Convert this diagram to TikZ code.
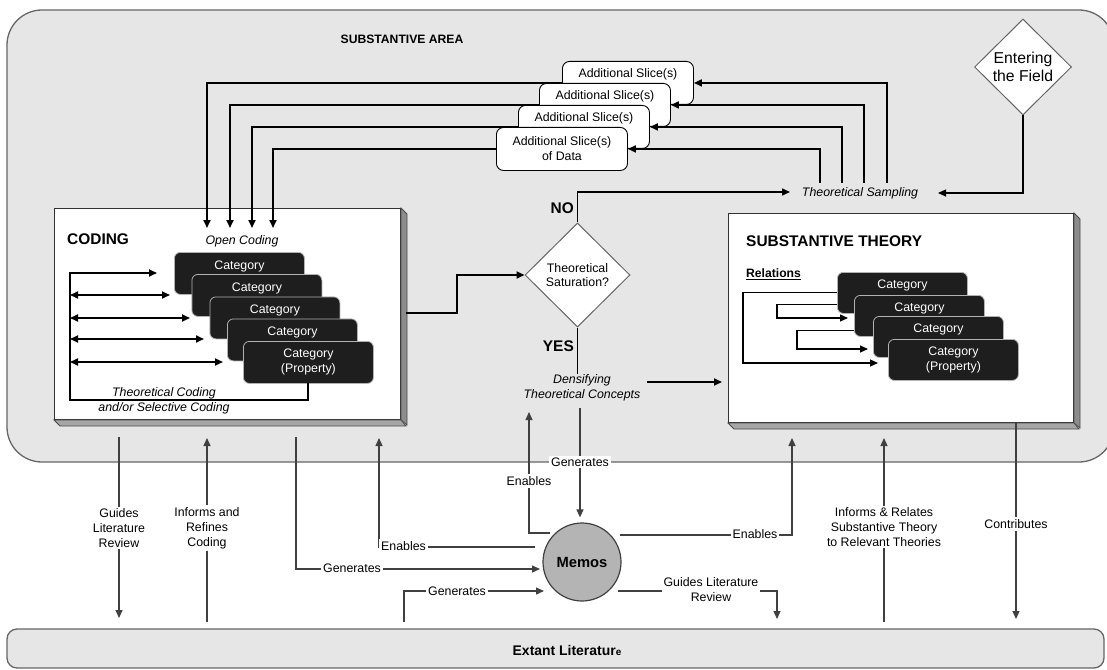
\documentclass[tikz,border=0pt]{standalone}
\usepackage{fontspec}
\setmainfont{Liberation Sans}
\usetikzlibrary{arrows.meta,shapes.geometric,calc}

\definecolor{areagray}{HTML}{E6E6E6}
\definecolor{bordergray}{HTML}{666666}
\definecolor{catfill}{HTML}{1E1E1E}
\definecolor{memofill}{HTML}{B4B4B4}
\definecolor{shadeA}{HTML}{8C8C8C}
\definecolor{shadeB}{HTML}{A6A6A6}
\definecolor{flowgray}{HTML}{404040}

\newcommand{\setfs}[2]{\fontsize{#1}{#2}\selectfont}

\begin{document}
\begin{tikzpicture}[x=1bp,y=-1bp,
  >={Triangle[length=8bp,width=7bp]},
  txt/.style={font=\setfs{12.4}{15}, inner sep=1bp, align=center},
  itxt/.style={font=\setfs{12.4}{15}\itshape, inner sep=1bp, align=center},
  btxt/.style={font=\setfs{12.2}{15}\bfseries, inner sep=1bp},
  htxt/.style={font=\setfs{15.5}{18}\bfseries, inner sep=1bp},
  lbl/.style={txt, fill=white, inner sep=2bp},
  slicebox/.style={draw=black, fill=white, line width=0.9bp, rounded corners=7bp,
    minimum width=131bp, minimum height=43bp, inner sep=0, font=\setfs{12.4}{15}, align=center},
  catbox/.style={draw=gray!60, fill=catfill, line width=0.8bp, rounded corners=6bp,
    minimum width=130bp, minimum height=42bp, inner sep=0, font=\setfs{12.4}{15},
    text=white, align=center},
  cattxt/.style={font=\setfs{12.4}{15}, text=white, inner sep=0},
  whitebox/.style={draw=black!80, fill=white, line width=1bp, inner sep=0},
  slab/.style={draw=black!70, line width=0.8bp},
  conn/.style={line width=1.7bp, ->},
  relarrow/.style={line width=1.1bp, ->},
  flow/.style={line width=1.2bp, draw=flowgray, ->},
  decision/.style={diamond, draw=bordergray, fill=white, line width=1bp, inner sep=0, align=center}
]
\useasboundingbox (0,0) rectangle (1107,670);

% ---------- containers ----------
\path[draw=bordergray, fill=areagray, line width=1.3bp, rounded corners=35bp] (7,10) rectangle (1114,462);
\path[draw=bordergray, fill=areagray, line width=1.3bp, rounded corners=10bp] (7,629) rectangle (1104,668);
\node[btxt] (area) at (402,39) {SUBSTANTIVE AREA};
\node[font=\setfs{14}{16}\bfseries, inner sep=1bp] (lit) at (567,651) {Extant Literatur{\setfs{10}{12}e}};

% ---------- additional slices of data ----------
\node[slicebox, anchor=north west] (s1) at (562,61) {};
\node[txt] (s1t) at ($(s1.north)+(0,13)$) {Additional Slice(s)};
\node[slicebox, anchor=north west] (s2) at (539,83) {};
\node[txt] (s2t) at ($(s2.north)+(0,13)$) {Additional Slice(s)};
\node[slicebox, anchor=north west] (s3) at (518,105) {};
\node[txt] (s3t) at ($(s3.north)+(0,13)$) {Additional Slice(s)};
\node[slicebox, anchor=north west] (s4) at (496,127) {Additional Slice(s)\\of Data};

% ---------- theoretical sampling / entering the field ----------
\node[itxt] (ts) at (860,193) {Theoretical Sampling};
\node[decision, minimum width=97bp, minimum height=96bp, font=\setfs{15.8}{18}] (ef) at (1023,67) {Entering\\the Field};
\coordinate (tsin) at (938,193);
\draw[line width=1.2bp, ->] (ef.south) |- (tsin);

\coordinate (r1) at (887,183);
\coordinate (r2) at (864,183);
\coordinate (r3) at (842,183);
\coordinate (r4) at (820,183);
\draw[conn] (r1) |- (s1.east);
\draw[conn] (r2) |- (s2.east);
\draw[conn] (r3) |- (s3.east);
\draw[conn] (r4) |- (s4.east);

% ---------- coding box ----------
\node[whitebox, anchor=north west, minimum width=346bp, minimum height=211bp] (cod) at (54,208) {};
\fill[shadeA, slab] (cod.north east) -- ++(6,6) -- ++(0,211) -- (cod.south east) -- cycle;
\fill[shadeB, slab] (cod.south west) -- ++(6,6) -- ++(346,0) -- (cod.south east) -- cycle;
\node[htxt, anchor=west] (codt) at (66,239) {CODING};
\node[itxt] (ocl) at (242,241) {Open Coding};

\coordinate (oc1) at (207,228);
\coordinate (oc2) at (230,228);
\coordinate (oc3) at (252,228);
\coordinate (oc4) at (273,228);
\draw[conn] (s1.west) -| (oc1);
\draw[conn] (s2.west) -| (oc2);
\draw[conn] (s3.west) -| (oc3);
\draw[conn] (s4.west) -| (oc4);

\node[catbox, anchor=north west] (c1) at (174,252) {};
\node[cattxt] (c1t) at ($(c1.north)+(0,14)$) {Category};
\node[catbox, anchor=north west] (c2) at (191.5,274) {};
\node[cattxt] (c2t) at ($(c2.north)+(0,14)$) {Category};
\node[catbox, anchor=north west] (c3) at (209.5,296.5) {};
\node[cattxt] (c3t) at ($(c3.north)+(0,14)$) {Category};
\node[catbox, anchor=north west] (c4) at (227,318.5) {};
\node[cattxt] (c4t) at ($(c4.north)+(0,14)$) {Category};
\node[catbox, anchor=north west] (c5) at (243,341) {Category\\(Property)};

% theoretical / selective coding loop
\coordinate (spine) at (70,273);
\coordinate (tcs) at (308,383);
\coordinate (tc1) at (157,273);
\coordinate (tc2) at (170,295);
\coordinate (tc3) at (190,318);
\coordinate (tc4) at (204,339);
\coordinate (tc5) at (223,362);
\draw[conn] (tcs) -- ++(0,17) -| (spine) -- (tc1);
\draw[conn, <->] (spine |- tc2) -- (tc2);
\draw[conn, <->] (spine |- tc3) -- (tc3);
\draw[conn, <->] (spine |- tc4) -- (tc4);
\draw[conn, <->] (spine |- tc5) -- (tc5);
\node[itxt] (tcl) at (164,401) {Theoretical Coding\\and/or Selective Coding};

% ---------- theoretical saturation ----------
\node[decision, minimum width=105bp, minimum height=104bp, font=\setfs{12.4}{14}] (sat) at (577.5,275) {Theoretical\\Saturation?};
\coordinate (codout) at (406,313);
\draw[conn] (codout) -- ++(51,0) |- (sat.west);
\node[htxt, anchor=east] (no) at (575,208) {NO};
\coordinate (tsw) at (790,192);
\draw[line width=1.5bp, ->] (sat.north) |- (tsw);
\node[htxt, anchor=east] (yes) at (575,346) {YES};
\node[itxt] (dens) at (582,388) {Densifying\\Theoretical Concepts};
\draw[line width=1.2bp] (sat.south) -- (sat.south |- dens.north);

% ---------- substantive theory box ----------
\node[whitebox, anchor=north west, minimum width=345bp, minimum height=209bp] (thy) at (728,213) {};
\fill[shadeA, slab] (thy.north east) -- ++(6,6) -- ++(0,209) -- (thy.south east) -- cycle;
\fill[shadeB, slab] (thy.south west) -- ++(6,6) -- ++(345,0) -- (thy.south east) -- cycle;
\node[htxt, anchor=west] (thyt) at (745,241) {SUBSTANTIVE THEORY};
\node[btxt, anchor=west] (rel) at (745,274) {\underline{Relations}};

\node[catbox, anchor=north west, minimum height=41bp] (t1) at (837,272) {};
\node[cattxt] (t1t) at ($(t1.north)+(0,13)$) {Category};
\node[catbox, anchor=north west, minimum height=41bp] (t2) at (854,295) {};
\node[cattxt] (t2t) at ($(t2.north)+(0,13)$) {Category};
\node[catbox, anchor=north west, minimum height=41bp] (t3) at (873,316) {};
\node[cattxt] (t3t) at ($(t3.north)+(0,13)$) {Category};
\node[catbox, anchor=north west, minimum height=41bp] (t4) at (888,339) {Category\\(Property)};

\coordinate (rin2) at (848,318);
\coordinate (rin3) at (868,349);
\coordinate (rin4) at (878,363);
\draw[relarrow] (t1.west) -- ++(-94,0) |- (rin4);
\draw[relarrow] ($(t1.west)+(0,12)$) -- ++(-60,0) |- (rin2);
\draw[relarrow] ($(t2.west)+(0,15)$) -- ++(-57,0) |- (rin3);

\coordinate (dout) at (647,382);
\coordinate (thyin) at (722,382);
\draw[conn] (dout) -- (thyin);

% ---------- memos ----------
\node[circle, draw=black!75, fill=memofill, minimum size=78bp, line width=1.2bp,
  font=\setfs{14.8}{17}\bfseries, inner sep=0] (memos) at (582,562) {Memos};

\coordinate (g1s) at (580,408);
\draw[flow, shorten >=5bp] (g1s) -- (g1s |- memos.north);
\node[lbl] (g1l) at (580,462) {Generates};

\coordinate (e1s) at (550,533);
\coordinate (e1e) at (529,412);
\draw[flow] (e1s) -| (e1e);
\node[lbl] (e1l) at (529,481) {Enables};

\coordinate (e2s) at (620,535);
\coordinate (e2e) at (792,438);
\draw[flow] (e2s) -| (e2e);
\node[lbl] (e2l) at (755,534) {Enables};

\coordinate (e3s) at (535,547);
\coordinate (e3e) at (379,438);
\draw[flow] (e3s) -| (e3e);
\node[lbl, anchor=west] (e3l) at (379,546) {Enables};

\coordinate (g2s) at (296,437);
\coordinate (g2e) at (540,569);
\draw[flow] (g2s) |- (g2e);
\node[lbl] (g2l) at (352,568) {Generates};

\coordinate (g3s) at (404,622);
\coordinate (g3e) at (544,591);
\draw[flow] (g3s) |- (g3e);
\node[lbl] (g3l) at (457,591) {Generates};

\coordinate (gl2s) at (618,591);
\coordinate (gl2e) at (777,619);
\draw[flow] (gl2s) -| (gl2e);
\node[lbl] (gl2l) at (711,590) {Guides Literature\\Review};

% ---------- links with the extant literature ----------
\coordinate (gl1s) at (119,437);
\coordinate (gl1e) at (119,618);
\draw[flow] (gl1s) -- (gl1e);
\node[lbl] (gl1l) at (119,528) {Guides\\Literature\\Review};

\coordinate (inf1s) at (207,622);
\coordinate (inf1e) at (207,438);
\draw[flow] (inf1s) -- (inf1e);
\node[lbl] (inf1l) at (207,528) {Informs and\\Refines\\Coding};

\coordinate (inf2s) at (884,622);
\coordinate (inf2e) at (884,438);
\draw[flow] (inf2s) -- (inf2e);
\node[lbl] (inf2l) at (884,527) {Informs \& Relates\\Substantive Theory\\to Relevant Theories};

\coordinate (cons) at (1016,422);
\coordinate (cone) at (1016,619);
\draw[flow] (cons) -- (cone);
\node[lbl] (conl) at (1016,524) {Contributes};

\end{tikzpicture}
\end{document}
